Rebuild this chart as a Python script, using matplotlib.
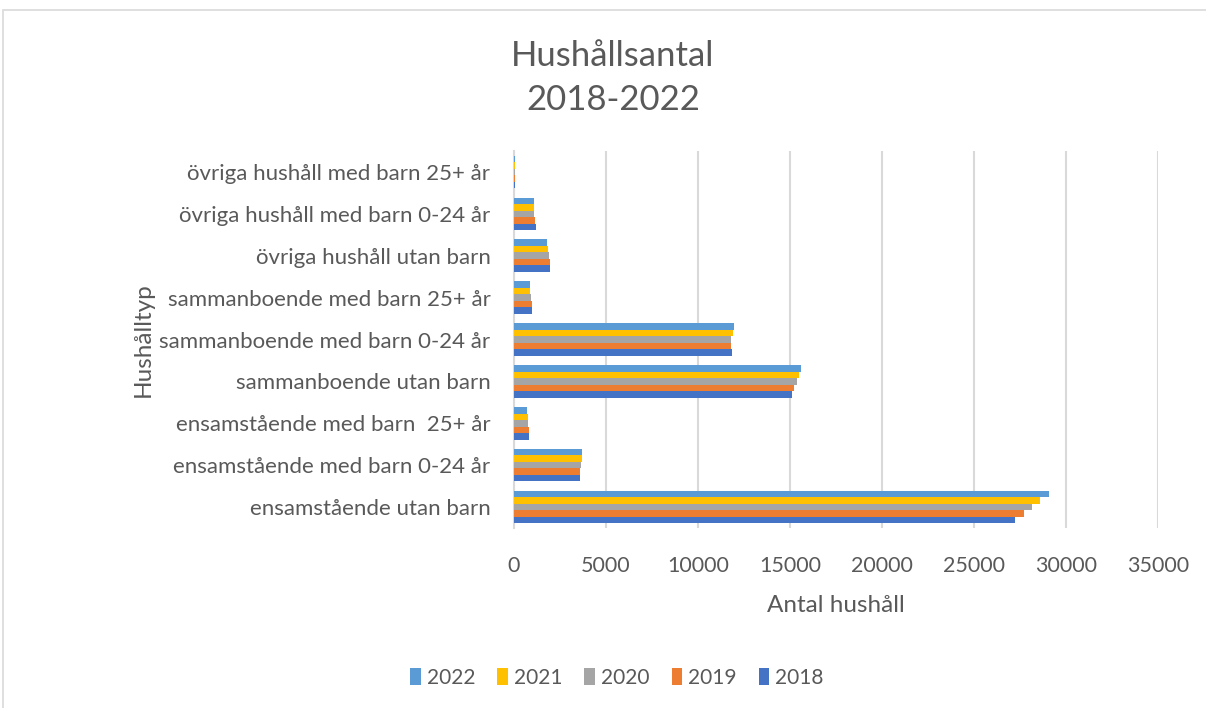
import numpy as np
import matplotlib
matplotlib.use("Agg")
import matplotlib.pyplot as plt
from matplotlib.patches import Rectangle

plt.rcParams['font.family'] = ['Lato', 'DejaVu Sans']

# ─── data ─────────────────────────────────────────
categories = [
    "ensamstående utan barn",
    "ensamstående med barn 0-24 år",
    "ensamstående med barn  25+ år",
    "sammanboende utan barn",
    "sammanboende med barn 0-24 år",
    "sammanboende med barn 25+ år",
    "övriga hushåll utan barn",
    "övriga hushåll med barn 0-24 år",
    "övriga hushåll med barn 25+ år",
]
years = ["2018", "2019", "2020", "2021", "2022"]
v2018 = [27230, 3560, 810, 15110, 11860, 975, 1950, 1190, 50]
v2019 = [27720, 3600, 810, 15220, 11810, 975, 1950, 1140, 45]
v2020 = [28160, 3660, 760, 15380, 11810, 920, 1900, 1080, 40]
v2021 = [28580, 3720, 760, 15490, 11920, 867, 1840, 1080, 40]
v2022 = [29065, 3720, 705, 15600, 11970, 867, 1790, 1080, 45]
series = [v2018, v2019, v2020, v2021, v2022]
colors = ["#4472C4", "#ED7D31", "#A5A5A5", "#FFC000", "#5B9BD5"]

TXT = "#595959"

fig = plt.figure(figsize=(12.06, 7.08), dpi=100)
fig.patch.set_facecolor("white")

# chart border (Excel chart area)
fig.patches.append(Rectangle((3 / 1206, -0.05), 1.2, 1 - 10 / 708 + 0.05,
                             transform=fig.transFigure, fill=False,
                             edgecolor="#D9D9D9", linewidth=1.2))

ax = fig.add_axes([514 / 1206, 1 - 528 / 708, (1158 - 514) / 1206, (528 - 151) / 708])

y = np.arange(len(categories))
bh = 0.155
for i, (vals, col, yr) in enumerate(zip(series, colors, years)):
    ax.barh(y + (i - 2) * bh, vals, height=bh, color=col, label=yr, zorder=3)

ax.set_xlim(0, 35000)
ax.set_ylim(-0.5, len(categories) - 0.5)
ax.set_xticks(np.arange(0, 35001, 5000))
ax.set_yticks(y)
ax.set_yticklabels(categories)
ax.grid(axis="x", color="#D9D9D9", linewidth=1.5, zorder=0)
for s in ["top", "right", "bottom"]:
    ax.spines[s].set_visible(False)
ax.spines["left"].set_color("#D9D9D9")
ax.spines["left"].set_linewidth(1.5)
ax.tick_params(axis="y", length=0, labelsize=16, colors=TXT, pad=17)
ax.tick_params(axis="x", length=0, labelsize=15.5, colors=TXT, pad=20)

ax.set_xlabel("Antal hushåll", fontsize=17.5, color=TXT, labelpad=14)
ax.set_ylabel("Hushålltyp", fontsize=17.5, color=TXT, labelpad=4)

fig.text(613 / 1206, 1 - 78 / 708, "Hushållsantal\n2018-2022", ha="center", va="center",
         fontsize=25, color=TXT, linespacing=1.45)

handles, labels = ax.get_legend_handles_labels()
fig.legend(handles[::-1], labels[::-1], loc="center", bbox_to_anchor=(617 / 1206, 1 - 678 / 708),
           ncol=5, frameon=False, fontsize=15, labelcolor=TXT,
           handlelength=0.5, handleheight=0.9, handletextpad=0.3, columnspacing=1.05)

fig.savefig("out.png", dpi=100, facecolor="white")
